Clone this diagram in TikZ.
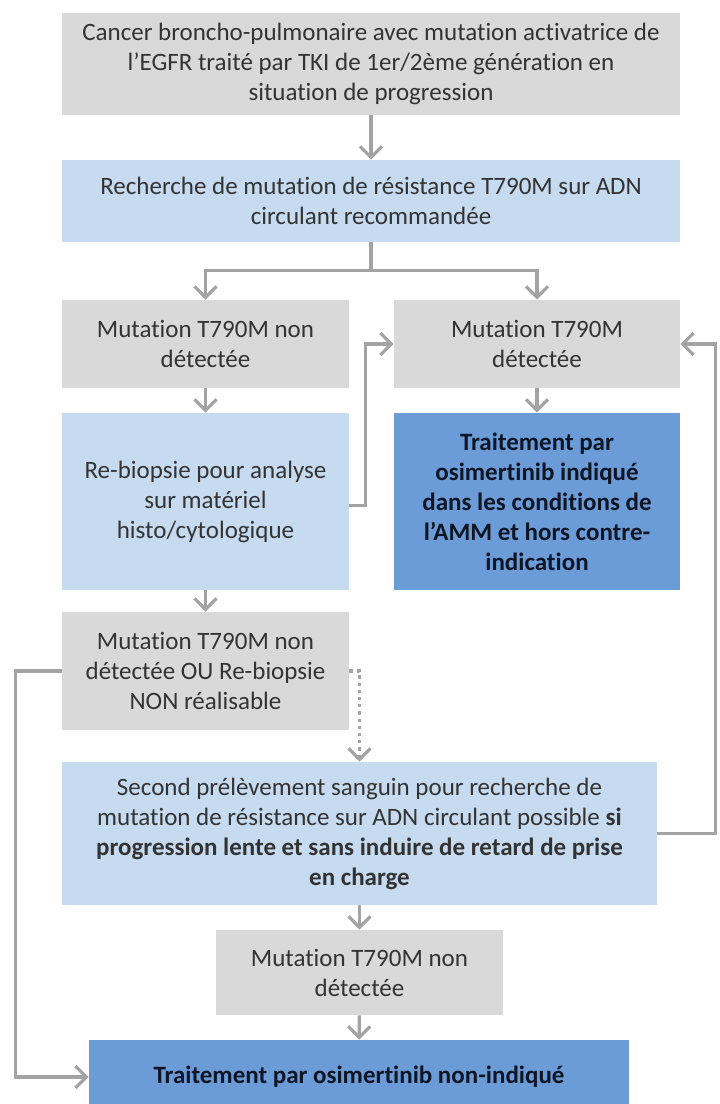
\documentclass[tikz,border=0pt]{standalone}
\usepackage{fontspec}
\setmainfont{Carlito}[Ligatures=NoCommon]
\usepackage{xcolor}
\usepackage{tikz}
\usetikzlibrary{arrows.meta,positioning}
\definecolor{greyb}{HTML}{D9D9D9}
\definecolor{lblue}{HTML}{C6DAF0}
\definecolor{dblue}{HTML}{6C9CD7}
\definecolor{arc}{HTML}{A3A3A3}
\definecolor{txtc}{HTML}{333333}
\definecolor{darktxt}{HTML}{0E1626}
\tikzset{
  ar/.style={-{Straight Barb[length=5.5pt,width=11pt,line width=1.6pt]},line width=1.6pt,arc},
  dotar/.style={ar,dotted},
  box/.style={align=center,inner sep=3pt,font=\fontsize{12.5}{15}\selectfont,text=txtc},
  gbox/.style={box,fill=greyb},
  lbox/.style={box,fill=lblue},
  dbox/.style={box,fill=dblue,text=darktxt,font=\fontsize{12.5}{15}\selectfont\bfseries}
}
\begin{document}
\begin{tikzpicture}[x=0.5pt,y=-0.5pt]
\useasboundingbox (0,0) rectangle (719,1104);
\node[gbox,minimum width=309pt,minimum height=51pt] (cancer) at (371,64)
  {Cancer broncho-pulmonaire avec mutation activatrice de\\l’EGFR traité par TKI de 1er/2ème génération en\\situation de progression};
\node[lbox,minimum width=309pt,minimum height=41pt] (recherche) at (371,201)
  {Recherche de mutation de résistance T790M sur ADN\\circulant recommandée};
\node[gbox,minimum width=143.5pt,minimum height=44pt] (nondet) at (205.5,344)
  {Mutation T790M non\\détectée};
\node[gbox,minimum width=143pt,minimum height=44pt] (det) at (537,344)
  {Mutation T790M\\détectée};
\node[lbox,minimum width=143.5pt,minimum height=88.5pt] (rebiopsie) at (205.5,501.5)
  {Re-biopsie pour analyse\\sur matériel\\histo/cytologique};
\node[dbox,minimum width=143pt,minimum height=88.5pt] (indique) at (537,501.5)
  {Traitement par\\osimertinib indiqué\\dans les conditions de\\l’AMM et hors contre-\\indication};
\node[gbox,minimum width=143.5pt,minimum height=59pt] (nonreal) at (205.5,671)
  {Mutation T790M non\\détectée OU Re-biopsie\\NON réalisable};
\node[lbox,minimum width=297.5pt,minimum height=71.5pt] (second) at (359.5,833.5)
  {Second prélèvement sanguin pour recherche de\\mutation de résistance sur ADN circulant possible \textbf{si}\\\textbf{progression lente et sans induire de retard de prise}\\\textbf{en charge}};
\node[gbox,minimum width=143.5pt,minimum height=42.5pt] (nondetb) at (359.5,972.5)
  {Mutation T790M non\\détectée};
\node[dbox,minimum width=270pt,minimum height=37pt] (nonind) at (359,1077)
  {Traitement par osimertinib non-indiqué};
\draw[ar] (cancer) -- (recherche);
\draw[ar] (recherche.south) -- ++(0,28) -| (nondet.north);
\draw[ar] (recherche.south) -- ++(0,28) -| (det.north);
\draw[ar] (nondet) -- (rebiopsie);
\draw[ar] (det) -- (indique);
\draw[ar] (rebiopsie.east) ++(0,4) -- ++(16,0) |- (det.west);
\draw[ar] (rebiopsie) -- (nonreal);
\draw[ar] (nonreal.west) -- ++(-46,0) |- (nonind.west);
\draw[dotar] (nonreal.east) -- ++(9,0) -| (second.north);
\draw[ar] (second.east) -- ++(58,0) |- (det.east);
\draw[ar] (second) -- (nondetb);
\draw[ar] (nondetb) -- (nonind);
\end{tikzpicture}
\end{document}
